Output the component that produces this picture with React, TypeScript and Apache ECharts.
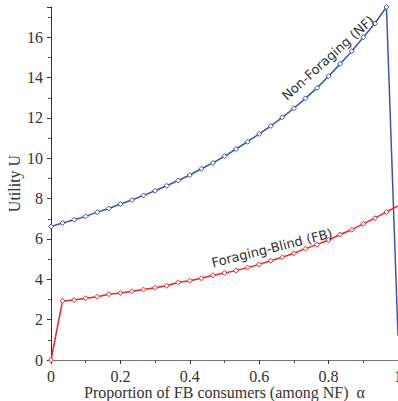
import React, { useEffect, useRef } from "react";
import * as echarts from "echarts";

const alphas: number[] = Array.from({ length: 31 }, (_, k) => k / 30);
const nfValues: number[] = [
  6.62, 6.79, 6.95, 7.12, 7.33, 7.51, 7.73, 7.93, 8.16, 8.39,
  8.64, 8.9, 9.17, 9.48, 9.77, 10.1, 10.46, 10.82, 11.21, 11.6,
  12.03, 12.48, 12.97, 13.49, 14.07, 14.68, 15.31, 16.0, 16.68, 17.5,
  1.2,
];
const fbValues: number[] = [
  0, 2.93, 2.97, 3.06, 3.14, 3.26, 3.32, 3.41, 3.49, 3.58,
  3.68, 3.85, 3.93, 4.05, 4.2, 4.31, 4.43, 4.58, 4.74, 4.92,
  5.09, 5.29, 5.52, 5.72, 5.95, 6.22, 6.46, 6.75, 7.03, 7.34,
  7.64,
];
const xTitle = "Proportion of FB consumers (among NF)  α";
const yTitle = "Utility U";
const nfLabel = "Non-Foraging (NF)";
const fbLabel = "Foraging-Blind (FB)";

const BLUE = "#3a55a8";
const RED = "#ee2426";
const SERIF = "'Liberation Serif', 'Times New Roman', serif";

export default function App() {
  const ref = useRef<HTMLDivElement>(null);
  useEffect(() => {
    if (!ref.current) return;
    const chart = echarts.init(ref.current, undefined, { renderer: "svg" });
    const mk = (vals: number[]) =>
      vals.map((v, i) =>
        i === vals.length - 1
          ? { value: [alphas[i], v], symbol: "none" }
          : { value: [alphas[i], v] }
      );
    const axisLabel = {
      fontFamily: SERIF,
      fontSize: 16,
      color: "#333",
      margin: 8,
    };
    const nameTextStyle = { fontFamily: SERIF, fontSize: 16, color: "#333" };
    chart.setOption({
      animation: false,
      textStyle: { fontFamily: SERIF },
      grid: { left: 51, right: 0, top: 7, bottom: 41, outerBoundsMode: "none", containLabel: false },
      xAxis: {
        type: "value",
        min: 0,
        max: 1,
        interval: 0.2,
        name: xTitle,
        nameLocation: "middle",
        nameGap: 24,
        nameMoveOverlap: false,
        nameTextStyle,
        axisLine: { show: true, lineStyle: { color: "#777", width: 1 } },
        axisTick: { show: true, inside: false, length: 4, lineStyle: { color: "#333" } },
        minorTick: { show: true, splitNumber: 2, length: 3, lineStyle: { color: "#555" } },
        splitLine: { show: false },
        axisLabel,
      },
      yAxis: {
        type: "value",
        min: 0,
        max: 17.5,
        interval: 2,
        name: yTitle,
        nameLocation: "middle",
        nameGap: 29,
        nameMoveOverlap: false,
        nameTextStyle,
        axisLine: { show: true, lineStyle: { color: "#333", width: 1 } },
        axisTick: { show: true, inside: false, length: 4, lineStyle: { color: "#333" } },
        minorTick: { show: true, splitNumber: 2, length: 3, lineStyle: { color: "#555" } },
        splitLine: { show: false },
        axisLabel: { ...axisLabel, showMaxLabel: false },
      },
      series: [
        {
          type: "line",
          data: mk(nfValues),
          symbol: "diamond",
          symbolSize: 5,
          showAllSymbol: true,
          lineStyle: { color: BLUE, width: 1.5 },
          itemStyle: { color: "#fff", borderColor: BLUE, borderWidth: 1 },
          clip: true,
          z: 3,
        },
        {
          type: "line",
          data: mk(fbValues),
          symbol: "diamond",
          symbolSize: 5,
          showAllSymbol: true,
          lineStyle: { color: RED, width: 1.5 },
          itemStyle: { color: "#fff", borderColor: RED, borderWidth: 1 },
          clip: true,
          z: 3,
        },
      ],
      graphic: [
        {
          type: "text",
          x: 328,
          y: 58,
          rotation: (42 * Math.PI) / 180,
          style: {
            text: nfLabel,
            font: "13px 'DejaVu Sans'",
            fill: "#333",
            align: "center",
            verticalAlign: "middle",
          },
          z: 10,
        },
        {
          type: "text",
          x: 272,
          y: 248,
          rotation: (14 * Math.PI) / 180,
          style: {
            text: fbLabel,
            font: "13px 'DejaVu Sans'",
            fill: "#333",
            align: "center",
            verticalAlign: "middle",
          },
          z: 10,
        },
      ],
    });
    return () => chart.dispose();
  }, []);
  return (
    <div
      ref={ref}
      style={{ position: "absolute", left: 0, top: 0, width: 398, height: 401 }}
    />
  );
}
